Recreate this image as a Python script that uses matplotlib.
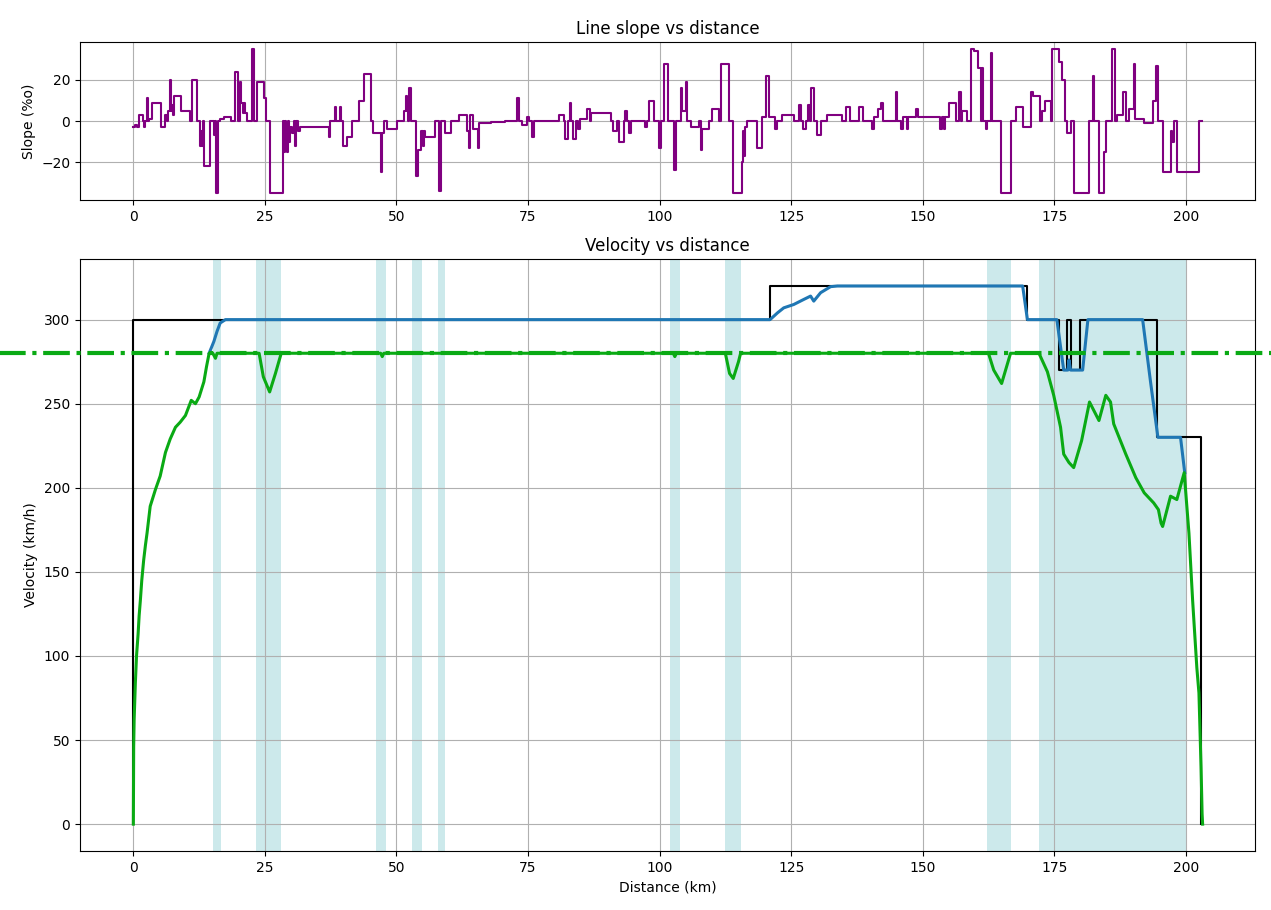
import matplotlib
matplotlib.use("Agg")
import matplotlib.pyplot as plt

# ---- line slope (per mille), step profile: start km of each segment + value
slope_km = [0.0, 0.3, 0.6, 1.0, 1.8, 2.1, 2.3, 2.6, 2.75, 3.0, 3.6, 5.3, 6.1, 6.3, 6.5,
            6.9, 7.2, 7.35, 7.5, 7.65, 7.8, 9.0, 10.8, 11.2, 12.0, 12.7, 12.85, 13.0,
            13.2, 13.4, 14.6, 15.3, 15.5, 15.7, 16.1, 16.5, 17.3, 18.6, 19.3, 19.8,
            20.2, 20.5, 20.8, 21.0, 21.2, 21.6, 22.6, 23.0, 23.5, 24.8, 25.2, 26.0,
            28.4, 28.6, 28.8, 29.0, 29.2, 29.4, 29.6, 29.8, 30.2, 30.5, 30.8, 31.0,
            31.2, 31.6, 37.1, 37.4, 38.3, 38.5, 39.2, 39.5, 39.9, 40.6, 41.5, 42.8,
            43.8, 45.2, 45.5, 47.0, 47.3, 47.6, 48.2, 50.1, 51.4, 51.8, 52.0, 52.2,
            52.4, 52.7, 53.8, 54.1, 54.6, 55.0, 55.2, 55.5, 57.4, 58.1, 58.4, 59.3,
            60.3, 61.9, 63.4, 63.8, 64.0, 64.6, 65.4, 65.7, 67.9, 70.7, 72.9, 73.3,
            73.9, 74.9, 75.2, 75.8, 76.1, 80.9, 81.8, 82.1, 82.6, 82.9, 83.2, 83.6,
            84.2, 84.5, 84.8, 86.2, 86.7, 87.0, 90.7, 91.2, 92.0, 92.3, 93.2, 93.5,
            93.8, 94.2, 94.5, 97.3, 97.6, 98.0, 98.9, 99.9, 100.2, 100.9, 101.6,
            102.7, 103.2, 104.0, 104.2, 105.0, 105.2, 105.9, 107.5, 107.8, 108.1,
            109.4, 110.0, 111.3, 111.6, 113.2, 114.0, 115.6, 115.8, 116.0, 116.2,
            116.6, 118.6, 119.5, 120.2, 120.8, 122.0, 122.3, 123.3, 125.5, 126.5,
            126.9, 127.2, 127.8, 128.2, 128.5, 128.7, 129.3, 130.0, 130.6, 131.9,
            134.7, 135.4, 136.2, 137.9, 138.6, 140.4, 140.7, 141.5, 142.0, 142.5,
            144.9, 145.2, 145.8, 146.2, 147.0, 147.3, 148.7, 149.2, 153.3, 153.6,
            154.0, 154.3, 155.0, 156.3, 156.9, 157.2, 157.5, 158.5, 159.1, 159.8,
            160.5, 161.0, 161.3, 161.5, 162.0, 162.3, 162.9, 163.2, 164.8, 166.7,
            167.7, 169.0, 170.5, 171.0, 172.3, 172.7, 173.3, 174.3, 174.6, 175.9,
            176.5, 177.0, 177.5, 178.1, 178.8, 181.6, 182.4, 182.6, 183.5, 184.5,
            184.8, 185.9, 186.5, 187.0, 188.0, 188.6, 189.2, 190.1, 190.3, 192.1,
            193.7, 194.3, 194.7, 195.6, 197.1, 197.4, 197.7, 198.3, 202.5]
slope_pct = [-3, -2, -3, 3, 0, -3, 0, 11, 0, 1, 9, -3, 3, 0, 5,
             20, 5, 8, 3, 8, 12, 5, 0, 20, 0, -12, -5, -12,
             0, -22, 0, -7, 0, -35, 0, 1, 2, 0, 24, 0,
             19, 9, 4, 9, 4, 0, 35, 0, 19, 11, 0, -35,
             0, -15, 0, -8, -15, 0, -10, -3, -6, 0, -12, 0,
             -5, -3, -8, 0, 7, 0, 7, 0, -12, -8, 0, 10,
             23, 0, -6, -25, -6, 0, -4, 0, 5, 12, 5, 0,
             16, 0, -27, -14, -5, -12, -5, -8, 0, -34, 0, -6,
             0, 3, -5, -13, 3, -4, -13, -1, -0.5, 0, 11, 0,
             -2, 2, 0, -8, 0, 3, 0, -9, 0, 9, 0, -9,
             0, -4, 1, 6, 0, 4, 0, -5, 0, -10, 0, 5,
             0, -6, 0, -3, 0, 10, 0, -13, 0, 28, 0,
             -24, 0, 16, 5, 19, 0, -3, 0, -14, -4,
             0, 6, 0, 28, 0, -35, -20, -5, -17, -3,
             0, -13, 2, 22, 2, -4, 0, 3, 0, 8,
             0, -4, 0, 8, 0, 16, 0, -7, 0, 3,
             0, 7, 0, 7, 0, -4, 2, 6, 9, 0,
             14, 0, -4, 2, -4, 2, 6, 2, -4, 2,
             -4, 2, 9, 0, 14, 0, 5, 0, 35, 34,
             26, 0, 26, 0, -4, 0, 33, 0, -35, 0,
             7, -3, 14, 12, 0, 5, 10, 0, 35, 29,
             20, 0, -6, 0, -35, 0, 22, 0, -35, -15,
             0, 35, 0, 3, 14, 0, 6, 28, 1, -1,
             10, 27, 0, -25, -5, -10, 0, -25, 0]
route_end_km = 203.0

# ---- speed limit (step), km / km/h
limit_km = [0, 0, 120.9, 169.8, 175.9, 177.4, 178.1, 179.9, 194.6, 202.95]
limit_kmh = [0, 300, 320, 300, 270, 300, 270, 300, 230, 0]

# ---- maximum allowed profile (braking curves)
max_km = [14.4, 15.3, 15.9, 16.5, 17.5, 121.0, 122.4, 123.6, 125.5, 127.4, 128.7,
          129.3, 130.6, 132.5, 133.8, 169.0, 169.9, 175.5, 176.8, 177.6, 177.8,
          178.1, 180.4, 181.4, 191.8, 193.3, 194.7, 199.0, 199.8]
max_kmh = [280, 287, 293, 298, 300, 300, 304, 307, 309, 312, 314,
           311, 316, 319.6, 320, 320, 300, 300, 270, 270, 276,
           270, 270, 300, 300, 263, 230, 230, 209]

# ---- simulated train speed
speed_km = [0, 0.06, 0.15, 0.38, 0.6, 0.9, 1.1, 1.33, 1.6, 1.96, 2.3, 2.6, 2.9, 3.2,
            3.7, 4.2, 5.1, 6.1, 7.0, 8.0, 8.9, 9.9, 11.0, 11.8, 12.5, 13.4, 13.9,
            14.4, 15.1, 15.6, 15.9, 23.9, 24.7, 25.9, 27.0, 28.1, 47.0, 47.3, 47.6,
            102.6, 102.9, 103.2, 112.5, 113.3, 114.0, 115.0, 115.4, 162.5, 163.5,
            165.0, 166.7, 172.1, 173.7, 174.9, 176.2, 176.8, 177.8, 178.7, 180.2,
            181.7, 183.5, 184.8, 185.7, 186.3, 188.6, 190.5, 192.1, 193.9, 194.8,
            195.3, 195.6, 197.1, 198.3, 199.7, 200.6, 201.3, 202.1, 202.5, 202.9,
            203.1, 203.2]
speed_kmh = [0, 46, 62, 84, 100, 113, 124, 133, 145, 157, 166, 173, 181, 189,
             194, 199, 207, 221, 229, 236, 239, 243, 252, 250, 254, 263, 272,
             280, 280, 277, 280, 280, 266, 257, 268, 280, 280, 278, 280,
             280, 278, 280, 280, 268, 265, 275, 280, 280, 270,
             262, 280, 280, 269, 255, 236, 220, 215, 212, 228,
             251, 240, 255, 251, 238, 220, 206, 197, 191, 187,
             179, 177, 195, 193, 209, 173, 133, 93, 78, 34,
             6, 0]

target_kmh = 280

# ---- neutral sections / zones highlighted on the velocity plot
zone_start_km = [15.1, 23.4, 46.2, 53.0, 57.8, 102.0, 112.5, 162.3, 172.1]
zone_end_km = [16.7, 28.0, 48.1, 54.8, 59.3, 103.8, 115.5, 166.7, 200.05]


def main():
    fig = plt.figure(figsize=(12.71, 9.10), dpi=100)
    ax1 = fig.add_axes([0.0629, 0.7802, 0.9245, 0.1736])
    ax2 = fig.add_axes([0.0629, 0.0648, 0.9245, 0.6505])

    # slope
    ax1.step(slope_km + [route_end_km], slope_pct + [slope_pct[-1]], where='post',
             color='purple', linewidth=1.5)
    ax1.set_title("Line slope vs distance", fontsize=12)
    ax1.set_ylabel("Slope (%o)")
    ax1.grid(True)

    # velocity
    for s, e in zip(zone_start_km, zone_end_km):
        ax2.axvspan(s, e, color='#cce9eb', linewidth=0, zorder=1)
    ax2.step(limit_km, limit_kmh, where='post', color='black', linewidth=1.5, zorder=3)
    ax2.plot(max_km, max_kmh, color='tab:blue', linewidth=2.2, zorder=4)
    ax2.plot(speed_km, speed_kmh, color='#0aaa14', linewidth=2.2, zorder=5)
    ax2.plot([-0.07, 1.02], [target_kmh, target_kmh], transform=ax2.get_yaxis_transform(),
             linestyle='-.', color='#0aaa14', linewidth=3, clip_on=False, zorder=6)
    ax2.set_xlim(ax1.get_xlim())
    ax2.set_title("Velocity vs distance", fontsize=12)
    ax2.set_xlabel("Distance (km)")
    ax2.set_ylabel("Velocity (km/h)")
    ax2.grid(True)

    fig.savefig("out.png", dpi=100)


if __name__ == "__main__":
    main()
